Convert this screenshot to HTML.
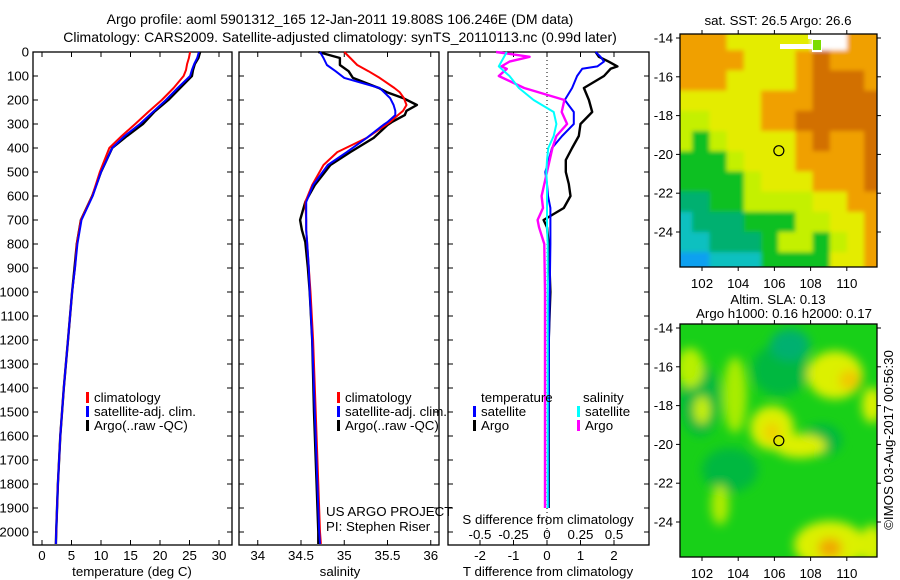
<!DOCTYPE html>
<html><head><meta charset="utf-8"><style>
body{margin:0;background:#fff;}
svg{display:block;font-family:"Liberation Sans",sans-serif;font-size:13.3px;}
</style></head><body>
<svg id="fig" width="900" height="580" viewBox="0 0 900 580">
<defs>
<filter id="blurA" x="-5%" y="-5%" width="110%" height="110%"><feGaussianBlur stdDeviation="2"/></filter>
<filter id="blurB" x="-30%" y="-30%" width="160%" height="160%"><feGaussianBlur stdDeviation="5"/></filter>
<clipPath id="clipTop"><rect x="680" y="34" width="197" height="233"/></clipPath>
<clipPath id="clipBot"><rect x="680" y="324" width="197" height="233"/></clipPath>
</defs>
<text x="340" y="24" text-anchor="middle" font-size="14">Argo profile: aoml 5901312_165 12-Jan-2011 19.808S 106.246E (DM data)</text>
<text x="340" y="42" text-anchor="middle" font-size="14">Climatology: CARS2009. Satellite-adjusted climatology: synTS_20110113.nc (0.99d later)</text>
<g id="g1"></g>
<g id="g2"></g>
<g id="g3"></g>
<g id="m1"></g>
<g id="m2"></g>
<text x="893" y="440" text-anchor="middle" transform="rotate(-90 893 440)">©IMOS 03-Aug-2017 00:56:30</text>
</svg>
<script>
// ---- data ----
const depthTicks=[0,100,200,300,400,500,600,700,800,900,1000,1100,1200,1300,1400,1500,1600,1700,1800,1900,2000];
const tempTicks=[0,5,10,15,20,25,30];
const salTicks=[34,34.5,35,35.5,36];
const tdTicks=[-2,-1,0,1,2];
const sdTicks=[-0.5,-0.25,0,0.25,0.5];
const tDep=[0,25,50,75,100,150,200,250,300,350,400,500,600,700,800,900,1000,1200,1400,1600,1800,2000,2050];
const tClim=[25.1,24.9,24.6,24.4,24.0,22.3,20.3,18.0,15.8,13.5,11.4,9.8,8.5,6.6,5.9,5.6,5.1,4.4,3.7,3.1,2.7,2.4,2.35];
const tSatC=[26.6,26.3,25.8,25.4,25.1,23.0,21.0,18.8,16.6,14.0,11.9,10.0,8.6,6.7,6.0,5.6,5.1,4.4,3.7,3.1,2.7,2.4,2.35];
const tArgoP=[26.8,26.5,25.9,25.6,25.4,23.4,21.4,19.0,17.1,14.4,11.9,10.0,8.5,6.6,5.9,5.5,5.1,4.4,3.7,3.1,2.7,2.4,2.35];
const sDep=[0,25,54,80,108,150,167,192,221,245,263,292,304,358,417,471,554,625,700,742,792,900,1000,1200,1500,1800,2000,2050];
const sClim=[35.0,35.07,35.15,35.28,35.41,35.58,35.64,35.69,35.72,35.68,35.62,35.53,35.48,35.26,34.92,34.76,34.63,34.55,34.56,34.56,34.57,34.59,34.61,34.64,34.67,34.7,34.72,34.73];
const sSatC=[34.72,34.76,34.8,34.9,35.0,35.41,35.46,35.53,35.57,35.59,35.59,35.5,35.45,35.26,35.03,34.81,34.64,34.56,34.56,34.56,34.57,34.59,34.6,34.63,34.66,34.69,34.71,34.72];
const sArgoP=[34.7,34.95,34.95,35.05,35.1,35.4,35.49,35.68,35.84,35.72,35.7,35.55,35.5,35.34,35.07,34.84,34.66,34.55,34.49,34.51,34.55,34.58,34.6,34.63,34.65,34.68,34.7,34.7];
const dDep=[0,20,40,60,70,100,150,200,250,300,350,400,450,500,550,600,650,700,730,800,1000,1200,1500,1750,1900];
const dTArgo=[1.45,1.55,1.84,2.1,1.9,1.7,1.1,1.25,1.35,1.0,0.95,0.75,0.56,0.56,0.65,0.7,0.5,-0.1,0.0,0.05,0.1,0.05,0.05,0.05,0.05];
const dTSat=[1.45,1.6,1.7,1.5,1.05,0.9,0.75,0.53,0.8,0.8,0.45,0.15,0.05,-0.05,0.0,0.03,0.1,0.1,0.1,0.1,0.08,0.06,0.05,0.04,0.04];
const dSArgo=[-0.38,-0.13,-0.28,-0.34,-0.3,-0.36,-0.17,0.13,0.11,0.15,0.07,0.04,0.02,0.0,-0.02,-0.04,-0.03,-0.07,-0.06,-0.02,-0.015,-0.015,-0.015,-0.015,-0.015];
const dSSat=[-0.3,-0.32,-0.34,-0.36,-0.34,-0.28,-0.21,-0.1,0.05,0.07,0.05,0.01,0.0,-0.005,0.0,0.0,0.0,0.0,0.0,0.005,0.005,0.005,0.005,0.005,0.005];
const lonTicks=[102,104,106,108,110];
const latTicks=[-14,-16,-18,-20,-22,-24];
const sstRows=["OOOYYYYYWWOO","OOOOYYYODOOO","OOOYYYYODDDO","YYYYYOOODDDD","LLYYYOODDDDD","LGLYYYYODOOD","GGGLYYYOOOOD","GGGGLYYYOOOD","TTGGLLLLYYOO","CTTTGGGLLYYO","CCTTTGLLGLYO","BBCCCGGGGYYO"];
const sstColors={O:"#f0a000",D:"#d27000",Y:"#e4ec00",L:"#c4f000",G:"#10c020",T:"#00b070",C:"#10c0c0",B:"#10a0f0",W:"#ffffff"};
const argoLon=106.246, argoLat=-19.808;

const NS="http://www.w3.org/2000/svg";
function mk(parent,tag,attrs,txt){const e=document.createElementNS(NS,tag);for(const k in attrs)e.setAttribute(k,attrs[k]);if(txt!==undefined)e.textContent=txt;parent.appendChild(e);return e;}
const Y=d=>52+d*0.24;
const TOP=52,BOT=545;

function frame(g,x0,x1,ticksX,sx,labels){
  const r=mk(g,'rect',{x:x0,y:TOP,width:x1-x0,height:BOT-TOP,fill:'none',stroke:'#000','stroke-width':1.3});
  
  
  depthTicks.forEach(d=>{
    mk(g,'line',{x1:x0,x2:x0+5,y1:Y(d),y2:Y(d),stroke:'#000'});
    mk(g,'line',{x1:x1,x2:x1-5,y1:Y(d),y2:Y(d),stroke:'#000'});
    if(labels){const t=mk(g,'text',{x:x0-4,y:Y(d)+4.5,'text-anchor':'end'},String(d));
      
      }
  });
  ticksX.forEach(v=>{const x=sx(v);
    mk(g,'line',{x1:x,x2:x,y1:TOP,y2:TOP+5,stroke:'#000'});
    mk(g,'line',{x1:x,x2:x,y1:BOT,y2:BOT-5,stroke:'#000'});
  });
}
function xlabels(g,ticks,sx,y,fmt){ticks.forEach(v=>{const t=mk(g,'text',{x:sx(v),y:y,'text-anchor':'middle'},fmt?fmt(v):String(v));
  
  });}
function line(g,deps,vals,sx,color,w,name){
  const n=Math.min(deps.length,vals.length);let p='';
  for(let i=0;i<n;i++)p+=(i?'L':'M')+sx(vals[i]).toFixed(1)+','+Y(deps[i]).toFixed(1);
  const e=mk(g,'path',{d:p,fill:'none',stroke:color,'stroke-width':w,'stroke-linejoin':'round'});
  
  
}
function legend(g,x,items){items.forEach((it,i)=>{const y=398+i*14;
  mk(g,'rect',{x:x,y:y-6,width:3,height:11,fill:it[1]});
  const t=mk(g,'text',{x:x+8,y:y+4},it[0]);
  
  });}

// panel 1
const g1=document.getElementById('g1');
const sT=v=>42+v*5.9;
frame(g1,33,232,tempTicks,sT,true);
xlabels(g1,tempTicks,sT,560);
let t1=mk(g1,'text',{x:132,y:576,'text-anchor':'middle'},'temperature (deg C)');


line(g1,tDep,tArgoP,sT,'#000',2.4,'temp-argo-line');
line(g1,tDep,tClim,sT,'#f00',2,'temp-climatology-line');
line(g1,tDep,tSatC,sT,'#00f',2,'temp-satellite-line');
legend(g1,86,[['climatology','#f00'],['satellite-adj. clim.','#00f'],['Argo(..raw -QC)','#000']]);

// panel 2
const g2=document.getElementById('g2');
const sS=v=>301+(v-34.5)*86.5;
frame(g2,239,439,salTicks,sS,false);
xlabels(g2,salTicks,sS,560);
let t2=mk(g2,'text',{x:340,y:576,'text-anchor':'middle'},'salinity');


line(g2,sDep,sArgoP,sS,'#000',2.4,'sal-argo-line');
line(g2,sDep,sClim,sS,'#f00',2,'sal-climatology-line');
line(g2,sDep,sSatC,sS,'#00f',2,'sal-satellite-line');
legend(g2,337,[['climatology','#f00'],['satellite-adj. clim.','#00f'],['Argo(..raw -QC)','#000']]);
let c1=mk(g2,'text',{x:326,y:516},'US ARGO PROJECT');


let c2=mk(g2,'text',{x:326,y:531},'PI: Stephen Riser');



// panel 3
const g3=document.getElementById('g3');
const sTd=v=>547+v*33.5;
const sSd=v=>547+v*134;
frame(g3,448,649,tdTicks,sTd,false);
xlabels(g3,tdTicks,sTd,560);
xlabels(g3,sdTicks,sSd,539);
let zl=mk(g3,'line',{x1:547,x2:547,y1:TOP,y2:BOT,stroke:'#000','stroke-dasharray':'1,3'});


let t3=mk(g3,'text',{x:548,y:576,'text-anchor':'middle'},'T difference from climatology');


let t4=mk(g3,'text',{x:548,y:524,'text-anchor':'middle'},'S difference from climatology');


line(g3,dDep,dTArgo,sTd,'#000',2.4,'t-diff-argo-line');
line(g3,dDep,dTSat,sTd,'#00f',2,'t-diff-satellite-line');
line(g3,dDep,dSArgo,sSd,'#f0f',2.4,'s-diff-argo-line');
line(g3,dDep,dSSat,sSd,'#0ff',2,'s-diff-satellite-line');
let lt=mk(g3,'text',{x:481,y:402},'temperature');


let ls=mk(g3,'text',{x:583,y:402},'salinity');


[['satellite','#00f',473,412],['Argo','#000',473,426],['satellite','#0ff',577,412],['Argo','#f0f',577,426]].forEach(it=>{
  mk(g3,'rect',{x:it[2],y:it[3]-6,width:3,height:11,fill:it[1]});
  const t=mk(g3,'text',{x:it[2]+8,y:it[3]+4},it[0]);
  
  
});

// maps
const lonX=lon=>702+(lon-102)*18.1;
function mapAxes(g,y0){
  const latY=lat=>y0+4+(-14-lat)*19.4;
  const r=mk(g,'rect',{x:680,y:y0,width:197,height:233,fill:'none',stroke:'#000','stroke-width':1.3});
  
  
  lonTicks.forEach(l=>{const x=lonX(l);
    mk(g,'line',{x1:x,x2:x,y1:y0,y2:y0-4,stroke:'#000'});
    mk(g,'line',{x1:x,x2:x,y1:y0+233,y2:y0+237,stroke:'#000'});
    const t=mk(g,'text',{x:x,y:y0+254,'text-anchor':'middle'},String(l));
    
    });
  latTicks.forEach(l=>{const y=latY(l);
    mk(g,'line',{x1:680,x2:676,y1:y,y2:y,stroke:'#000'});
    mk(g,'line',{x1:877,x2:881,y1:y,y2:y,stroke:'#000'});
    const t=mk(g,'text',{x:673,y:y+4.5,'text-anchor':'end'},String(l));
    
    });
  const c=mk(g,'circle',{cx:lonX(argoLon),cy:latY(argoLat),r:5,fill:'none',stroke:'#000','stroke-width':1.2});
  
  
}
const m1=document.getElementById('m1');
const mg1=mk(m1,'g',{'clip-path':'url(#clipTop)'});
const mg1b=mk(mg1,'g',{filter:'url(#blurA)'});
sstRows.forEach((row,r)=>{[...row].forEach((ch,c)=>{
  const e=mk(mg1b,'rect',{x:675+c*17.2,y:30+r*20.2,width:17.6,height:20.6,fill:sstColors[ch]});
  
  
});});
mk(mg1,'rect',{x:808,y:34,width:16,height:5,fill:'#fff'});
mk(mg1,'rect',{x:780,y:44,width:32,height:5,fill:'#fff'});
mk(mg1,'rect',{x:812,y:38,width:10,height:14,fill:'#fff'});
mk(mg1,'rect',{x:813,y:40,width:8,height:10,fill:'#7cdc00'});
mapAxes(m1,34);
let mt1=mk(m1,'text',{x:778,y:25,'text-anchor':'middle'},'sat. SST: 26.5 Argo: 26.6');



const m2=document.getElementById('m2');
const mg2=mk(m2,'g',{'clip-path':'url(#clipBot)'});
mk(mg2,'rect',{x:680,y:324,width:197,height:233,fill:'#18d018'});
const mg2b=mk(mg2,'g',{filter:'url(#blurB)'});
[[700,400,20,36,'#00b840'],[780,370,28,26,'#00b840'],[822,440,20,16,'#00b840'],[730,470,28,22,'#00b840'],[790,345,20,16,'#00b070'],
 [690,368,14,20,'#b8f000'],[735,395,12,38,'#a8ec00'],[702,410,8,14,'#c8f000'],
 [835,375,28,24,'#dcf000'],[850,380,11,10,'#f0c800'],
 [772,428,22,22,'#dcf000'],[800,446,26,12,'#dcf000'],[772,432,8,10,'#f0d000'],
 [830,545,36,24,'#dcf000'],[830,548,12,10,'#f0a800'],[872,405,10,18,'#dcf000'],[872,545,12,20,'#d8f000'],
 [720,505,9,20,'#b0ec00']].forEach(b=>{
  const e=mk(mg2b,'ellipse',{cx:b[0],cy:b[1],rx:b[2],ry:b[3],fill:b[4]});
  
  
});
mapAxes(m2,324);
let mt2=mk(m2,'text',{x:778,y:304,'text-anchor':'middle'},'Altim. SLA: 0.13');


let mt3=mk(m2,'text',{x:784,y:318,'text-anchor':'middle'},'Argo h1000: 0.16 h2000: 0.17');


</script>
</body></html>
